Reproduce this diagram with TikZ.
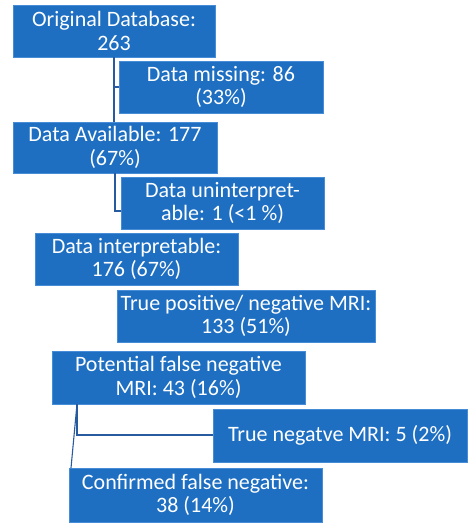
\documentclass[tikz,border=0pt]{standalone}
\usepackage{fontspec}
\setmainfont{Carlito}
\definecolor{boxblue}{RGB}{30,111,194}
\definecolor{boxedge}{RGB}{70,140,215}
\definecolor{linkblue}{RGB}{40,90,160}
\begin{document}
\begin{tikzpicture}[x=1pt,y=-1pt,
  stagebox/.style={rectangle, fill=boxblue, draw=boxedge, line width=0.6pt,
    text=white, align=center, inner sep=0pt,
    font=\fontsize{22}{23.5}\selectfont},
  link/.style={draw=linkblue, line width=1.1pt}]
\useasboundingbox[fill=white] (0,0) rectangle (474,529);
\node[stagebox, minimum width=202, minimum height=52] (b1) at (114,31) {Original Database:\\263};
\node[stagebox, minimum width=204, minimum height=52] (b2) at (221,87) {Data missing: 86\\(33\%)};
\node[stagebox, minimum width=204, minimum height=51] (b3) at (115,147.5) {Data Available: 177\\(67\%)};
\node[stagebox, minimum width=203, minimum height=52] (b4) at (222.5,203) {Data uninterpret-\\able: 1 (<1 \%)};
\node[stagebox, minimum width=203, minimum height=52] (b5) at (136.5,259) {Data interpretable:\\176 (67\%)};
\node[stagebox, minimum width=258, minimum height=52] (b6) at (246,316) {True positive/ negative MRI:\\133 (51\%)};
\node[stagebox, minimum width=253, minimum height=53] (b7) at (178.5,377.5) {Potential false negative\\MRI: 43 (16\%)};
\node[stagebox, minimum width=254, minimum height=53] (b8) at (340,435.5) {True negatve MRI: 5 (2\%)};
\node[stagebox, minimum width=253, minimum height=54] (b9) at (195.5,495) {Confirmed false negative:\\38 (14\%)};
% connectors
\coordinate (c1a) at (114,57);
\coordinate (c1b) at (114,122);
\draw[link] (c1a) -- (c1b);
\draw[link] (114,87) -- (b2.west |- 0,87);
\coordinate (c2a) at (115,173);
\draw[link] (c2a) -- (115,211) -- (b4.west |- 0,211);
\coordinate (c3a) at (77,404);
\coordinate (c3b) at (71,468);
\draw[link] (c3a) -- (77,435) -- (b8.west |- 0,435);
\draw[link] (c3a) -- (c3b);
\end{tikzpicture}
\end{document}
